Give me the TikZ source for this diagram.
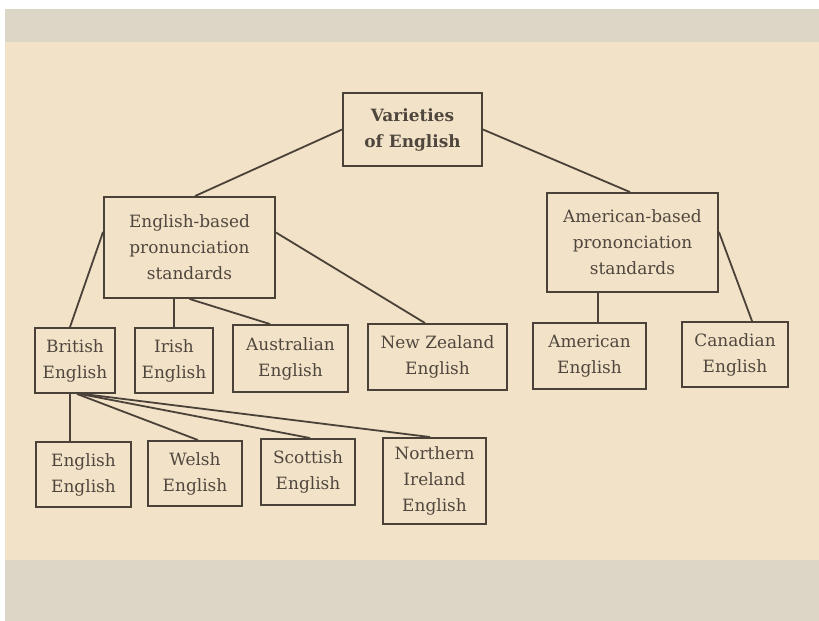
\documentclass[tikz,border=0pt]{standalone}
\usepackage{fontspec}
\setmainfont{DejaVu Serif}
\definecolor{paper}{HTML}{F2E2C7}
\definecolor{band}{HTML}{DCD6C6}
\definecolor{ink}{HTML}{4A4139}
\definecolor{txt}{HTML}{4F463E}
\tikzset{
  box/.style={draw=ink, line width=1.9bp, rectangle, inner sep=0pt, align=center, text=txt,
    font=\fontsize{17}{26}\selectfont},
  link/.style={draw=ink, line width=1.8bp}
}
\begin{document}
\begin{tikzpicture}[x=1bp,y=-1bp]
\useasboundingbox (0,0) rectangle (819,621);
\fill[white] (0,0) rectangle (819,621);
\fill[band] (5,9) rectangle (819,621);
\fill[paper] (5,42) rectangle (819,560);

\node[box, minimum width=139bp, minimum height=73bp, font=\fontsize{17}{26}\selectfont\bfseries] (var) at (412.5,129.5) {Varieties\\of English};
\node[box, minimum width=171bp, minimum height=101bp] (eng) at (189.5,247.5) {English-based\\pronunciation\\standards};
\node[box, minimum width=171bp, minimum height=99bp] (amer) at (632.5,242.5) {American-based\\prononciation\\standards};

\node[box, minimum width=80bp, minimum height=65bp] (brit) at (75,360.5) {British\\English};
\node[box, minimum width=78bp, minimum height=65bp] (irish) at (174,360.5) {Irish\\English};
\node[box, minimum width=115bp, minimum height=67bp] (aus) at (290.5,358.5) {Australian\\English};
\node[box, minimum width=139bp, minimum height=66bp] (nz) at (437.5,357) {New Zealand\\English};
\node[box, minimum width=113bp, minimum height=66bp] (ame) at (589.5,356) {American\\English};
\node[box, minimum width=106bp, minimum height=65bp] (can) at (735,354.5) {Canadian\\English};

\node[box, minimum width=95bp, minimum height=65bp] (ee) at (83.5,474.5) {English\\English};
\node[box, minimum width=94bp, minimum height=65bp] (wel) at (195,473.5) {Welsh\\English};
\node[box, minimum width=94bp, minimum height=66bp] (sco) at (308,472) {Scottish\\English};
\node[box, minimum width=103bp, minimum height=86bp] (ni) at (434.5,481) {Northern\\Ireland\\English};

\draw[link] (var.west) -- ([xshift=5.5bp]eng.north);
\draw[link] (var.east) -- ([xshift=-2.5bp]amer.north);

\draw[link] ([yshift=15.5bp]eng.west) -- ([xshift=-5bp]brit.north);
\draw[link] (irish.north |- eng.south) -- (irish.north);
\draw[link] (eng.south) -- ([xshift=-20.5bp]aus.north);
\draw[link] ([yshift=15bp]eng.east) -- ([xshift=-12.5bp]nz.north);

\coordinate (amedrop) at ([xshift=8.5bp]ame.north);
\draw[link] (amedrop |- amer.south) -- (amedrop);
\draw[link] ([yshift=10.5bp]amer.east) -- ([xshift=17bp]can.north);

\coordinate (eedrop) at ([xshift=-13.5bp]ee.north);
\draw[link] (eedrop |- brit.south) -- (eedrop);
\draw[link] ([xshift=2bp]brit.south) -- ([xshift=3bp]wel.north);
\draw[link] ([xshift=5bp]brit.south) -- ([xshift=2bp]sco.north);
\draw[link] ([xshift=8bp]brit.south) -- ([xshift=-4.5bp]ni.north);
\end{tikzpicture}
\end{document}
